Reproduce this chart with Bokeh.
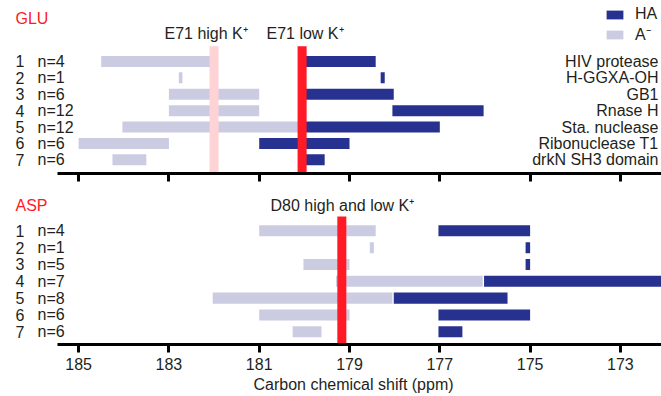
from bokeh.plotting import figure
from bokeh.models import (Range1d, FixedTicker, ColumnDataSource, LabelSet, Label,
                          Legend, LegendItem, Title)
from bokeh.core.properties import value
from bokeh.layouts import column
from bokeh.embed import file_html
from bokeh.resources import INLINE

# ---------------- data ----------------
rows = [1, 2, 3, 4, 5, 6, 7]
ticks = [185, 183, 181, 179, 177, 175, 173]
proteins = ["HIV protease", "H-GGXA-OH", "GB1", "Rnase H", "Sta. nuclease",
            "Ribonuclease T1", "drkN SH3 domain"]

glu_n = [4, 1, 6, 12, 12, 6, 6]
glu_a_start = [184.50, 182.78, 183.00, 183.00, 184.03, 185.00, 184.25]
glu_a_end = [182.00, 182.70, 181.00, 181.00, 180.05, 183.00, 183.50]
glu_ha_start = [180.00, 178.31, 180.00, 178.05, 180.00, 181.00, 180.00]
glu_ha_end = [178.42, 178.22, 178.02, 176.03, 177.00, 179.00, 179.55]

asp_n = [4, 1, 5, 7, 8, 6, 6]
asp_a_start = [181.00, 178.55, 180.02, 179.30, 182.03, 181.00, 180.26]
asp_a_end = [178.42, 178.46, 179.00, 176.05, 178.05, 179.00, 179.62]
asp_ha_start = [177.03, 175.10, 175.10, 176.02, 178.02, 177.03, 177.03]
asp_ha_end = [175.00, 175.00, 175.00, 172.00, 175.50, 175.00, 176.50]

e71_high = 182.0
e71_low = 180.05
d80 = 179.17

# ---------------- style ----------------
FONT = "Liberation Sans"
TXT = "#231f20"
HA_COL = "#27318f"
A_COL = "#cbcce2"
RED = "#ff1a25"
PINK = "#fdd3d6"
FS = "16px"
X_LEFT, X_RIGHT = 186.73, 172.09
AX_BOUNDS = (172.09, 185.46)


def base_fig(height, y_bottom, y_top, border_bottom):
    p = figure(width=661, height=height, output_backend="svg", toolbar_location=None,
               x_range=Range1d(X_LEFT, X_RIGHT), y_range=Range1d(y_bottom, y_top),
               y_axis_location=None, min_border_left=0, min_border_right=0,
               min_border_top=0, min_border_bottom=border_bottom)
    p.outline_line_color = None
    p.grid.visible = False
    ax = p.xaxis[0]
    ax.ticker = FixedTicker(ticks=ticks)
    ax.bounds = AX_BOUNDS
    ax.axis_line_width = 3
    ax.axis_line_color = "black"
    ax.major_tick_line_width = 3
    ax.major_tick_line_color = "black"
    ax.major_tick_in = 0
    ax.major_tick_out = 8
    ax.minor_tick_line_color = None
    ax.major_label_text_font = FONT
    ax.major_label_text_font_size = FS
    ax.major_label_text_color = TXT
    p.background_fill_color = "white"
    p.border_fill_color = "white"
    return p


def txt(**kw):
    return dict(text_font=value(FONT), text_font_size=value(FS), text_color=TXT,
                text_baseline="middle", **kw)


def panel(p, n, a_start, a_end, ha_start, ha_end, bar_h, title, title_y, with_proteins):
    src = ColumnDataSource(dict(
        row=rows, rowlab=[str(r) for r in rows], nlab=["n=%d" % v for v in n],
        a_start=a_start, a_end=a_end, ha_start=ha_start, ha_end=ha_end,
        prot=proteins))
    r_a = p.hbar(y="row", height=bar_h, left="a_start", right="a_end", source=src,
                 fill_color=A_COL, line_color=None)
    r_ha = p.hbar(y="row", height=bar_h, left="ha_start", right="ha_end", source=src,
                  fill_color=HA_COL, line_color=None)
    for col, xs in (("rowlab", 15), ("nlab", 37)):
        p.add_layout(LabelSet(x=xs, y="row", x_units="screen", text=col, source=src,
                              **txt(text_align="left")))
    if with_proteins:
        p.add_layout(LabelSet(x=658, y="row", x_units="screen", text="prot", source=src,
                              **txt(text_align="right")))
    p.add_layout(Label(x=15, y=title_y, x_units="screen", text=title, text_font=FONT,
                       text_font_size=FS, text_color=RED, text_baseline="middle"))
    return r_a, r_ha


# ---------------- GLU panel ----------------
p1 = base_fig(190, 7.835, -2.72, 17)
p1.xaxis[0].major_label_overrides = {t: "" for t in ticks}
r_a, r_ha = panel(p1, glu_n, glu_a_start, glu_a_end, glu_ha_start, glu_ha_end,
                  0.67, "GLU", -1.62, True)
p1.vbar(x=[e71_high], width=0.2, top=0.07, bottom=9, fill_color=PINK, line_color=None)
p1.vbar(x=[e71_low], width=0.2, top=0.07, bottom=9, fill_color=RED, line_color=None)
p1.add_layout(Label(x=164, y=-0.71, x_units="screen", text="E71 high K⁺", text_font=FONT,
                    text_font_size=FS, text_color=TXT, text_baseline="middle"))
p1.add_layout(Label(x=266, y=-0.71, x_units="screen", text="E71 low K⁺", text_font=FONT,
                    text_font_size=FS, text_color=TXT, text_baseline="middle"))
legend = Legend(items=[LegendItem(label="HA", renderers=[r_ha]),
                       LegendItem(label="A⁻", renderers=[r_a])],
                location=(604, 128), orientation="vertical",
                glyph_width=21, glyph_height=11, label_height=16, spacing=0,
                padding=0, margin=0, label_standoff=10,
                label_text_font=FONT, label_text_font_size=FS, label_text_color=TXT,
                label_text_line_height=0.8,
                border_line_color=None, background_fill_alpha=0)
p1.add_layout(legend)

# ---------------- ASP panel ----------------
p2 = base_fig(206, 7.755, -1.395, 52)
p2.xaxis[0].major_label_standoff = 5
panel(p2, asp_n, asp_a_start, asp_a_end, asp_ha_start, asp_ha_end,
      0.655, "ASP", -0.50, False)
p2.vbar(x=[d80], width=0.2, top=0.15, bottom=9, fill_color=RED, line_color=None)
p2.add_layout(Label(x=270, y=-0.50, x_units="screen", text="D80 high and low K⁺",
                    text_font=FONT, text_font_size=FS, text_color=TXT,
                    text_baseline="middle"))
p2.add_layout(Title(text="Carbon chemical shift (ppm)", align="left", offset=253,
                    text_font=FONT, text_font_size=FS, text_font_style="normal",
                    text_color=TXT, standoff=3), "below")

layout = column(p1, p2, spacing=0)
open("out.html", "w").write(file_html(layout, INLINE))
